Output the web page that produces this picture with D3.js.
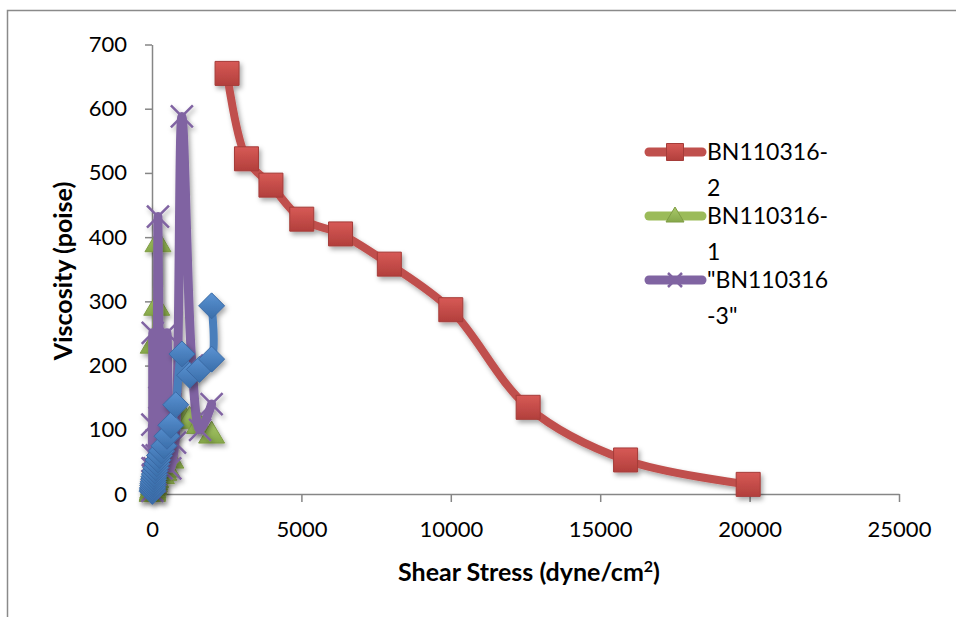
<!DOCTYPE html>
<html>
<head>
<meta charset="utf-8">
<script src="https://cdn.jsdelivr.net/npm/d3@7/dist/d3.min.js"></script>
<style>
  body { margin: 0; background: #fff; }
  svg { display: block; }
  text { font-family: Lato, "Open Sans", sans-serif; fill: #000; }
</style>
</head>
<body>
<script>
// shear stress (dyne/cm2) and viscosity (poise)
var redStress = [2512, 3162, 3981, 5012, 6310, 7943, 10000, 12589, 15849, 19953];
var redVisc   = [655, 522, 481, 428, 405, 358, 287, 135, 53, 15];

var greenStress = [10, 12.6, 15.8, 20, 25, 31.6, 39.8, 50, 63, 79, 100, 126, 158, 200, 251, 316, 398, 501, 631, 794, 1000, 1259, 1585, 1995];
var greenVisc   = [2, 3, 4, 5, 7, 8, 233, 12, 14, 17, 20, 24, 292, 391, 60, 30, 35, 40, 54, 120, 125, 116, 108, 93];

var purpleStress = [10, 12.6, 15.8, 20, 25, 31.6, 39.8, 50, 63, 79, 100, 126, 158, 200, 251, 316, 398, 501, 610, 770, 1000, 1340, 1610, 1995];
var purpleVisc   = [5, 108, 20, 40, 251, 60, 30, 20, 30, 40, 20, 30, 60, 432, 150, 40, 100, 251, 40, 80, 588, 200, 100, 140];

var blueStress = [10, 12.6, 15.8, 20, 25, 31.6, 39.8, 50, 63, 79, 100, 126, 158, 200, 251, 316, 398, 501, 631, 794, 1000, 1259, 1585, 1995, 1995];
var blueVisc   = [4, 6, 8, 10, 13, 16, 19, 23, 27, 31, 36, 41, 47, 53, 60, 67, 75, 90, 107, 139, 218, 185, 194, 210, 293];

var xTicks = [0, 5000, 10000, 15000, 20000, 25000];
var yTicks = [0, 100, 200, 300, 400, 500, 600, 700];

var legendNames = ['BN110316-2', 'BN110316-1', '"BN110316-3"'];
var legendLines = [['BN110316-', '2'], ['BN110316-', '1'], ['"BN110316', '-3"']];

var w = 956, h = 617;

var x = d3.scaleLinear().domain([0, 25000]).range([152, 899]);
var y = d3.scaleLinear().domain([0, 700]).range([494, 44.5]);

var svg = d3.select('body').append('svg')
  .attr('width', w)
  .attr('height', h);

var defs = svg.append('defs');

var shadow = defs.append('filter')
  .attr('id', 'shadow')
  .attr('x', '-20%').attr('y', '-20%')
  .attr('width', '140%').attr('height', '140%');
shadow.append('feDropShadow')
  .attr('dx', 2).attr('dy', 3)
  .attr('stdDeviation', 2.5)
  .attr('flood-color', '#000')
  .attr('flood-opacity', 0.35);

function grad(id, top, bottom) {
  var g = defs.append('linearGradient')
    .attr('id', id)
    .attr('x1', 0).attr('y1', 0).attr('x2', 0).attr('y2', 1);
  g.append('stop').attr('offset', '0%').attr('stop-color', top);
  g.append('stop').attr('offset', '100%').attr('stop-color', bottom);
}
grad('gRed', '#d75a56', '#b23f3c');
grad('gGreen', '#a9c96a', '#86a84a');
grad('gBlue', '#5b93d3', '#3a6eaa');

// chart frame, partly off the picture
svg.append('rect')
  .attr('x', 7.5).attr('y', 10.5)
  .attr('width', 1000).attr('height', 700)
  .attr('fill', 'none')
  .attr('stroke', '#8a8a8a')
  .attr('stroke-width', 1.5);

// axes
var xAxis = d3.axisBottom(x)
  .tickValues(xTicks)
  .tickSize(8)
  .tickSizeOuter(0)
  .tickPadding(19)
  .tickFormat(d3.format('d'));

var yAxis = d3.axisLeft(y)
  .tickValues(yTicks)
  .tickSize(7)
  .tickSizeOuter(0)
  .tickPadding(18)
  .tickFormat(d3.format('d'));

var gx = svg.append('g')
  .attr('transform', 'translate(0,' + y(0) + ')')
  .call(xAxis);
var gy = svg.append('g')
  .attr('transform', 'translate(' + x(0) + ',0)')
  .call(yAxis);

[gx, gy].forEach(function (g) {
  g.select('.domain').attr('stroke', '#868686').attr('stroke-width', 1.5);
  g.selectAll('.tick line').attr('stroke', '#868686').attr('stroke-width', 1.5);
  g.selectAll('.tick text')
    .style('font-family', 'Lato, "Open Sans", sans-serif')
    .style('font-size', '22px')
    .attr('fill', '#000');
});

// axis titles
svg.append('text')
  .attr('x', 529).attr('y', 581)
  .attr('text-anchor', 'middle')
  .style('font-size', '25px')
  .style('font-weight', 'bold')
  .html('Shear Stress (dyne/cm<tspan baseline-shift="super" font-size="16px">2</tspan>)');

svg.append('text')
  .attr('transform', 'translate(72,271) rotate(-90)')
  .attr('text-anchor', 'middle')
  .style('font-size', '25px')
  .style('font-weight', 'bold')
  .text('Viscosity (poise)');

// marker shapes
function squarePath(s) {
  return 'M' + (-s / 2) + ',' + (-s / 2) + 'h' + s + 'v' + s + 'h' + (-s) + 'Z';
}
function diamondPath(s) {
  return 'M0,' + (-s) + 'L' + s + ',0L0,' + s + 'L' + (-s) + ',0Z';
}
function trianglePath(wd, ht) {
  return 'M0,' + (-ht * 0.6) + 'L' + (wd / 2) + ',' + (ht * 0.4) + 'L' + (-wd / 2) + ',' + (ht * 0.4) + 'Z';
}
function crossPath(s) {
  return 'M' + (-s) + ',' + (-s) + 'L' + s + ',' + s + 'M' + (-s) + ',' + s + 'L' + s + ',' + (-s);
}

var line = d3.line()
  .x(function (d) { return x(d[0]); })
  .y(function (d) { return y(d[1]); })
  .curve(d3.curveCatmullRom.alpha(0.5));

var series = [
  { xs: redStress, ys: redVisc, color: '#c0504d', lw: 8,
    marker: squarePath(24), fill: 'url(#gRed)', stroke: '#a53c39', sw: 1 },
  { xs: greenStress, ys: greenVisc, color: '#9bbb59', lw: 8,
    marker: trianglePath(26, 22), fill: 'url(#gGreen)', stroke: '#7f9c44', sw: 1 },
  { xs: purpleStress, ys: purpleVisc, color: '#8064a2', lw: 9,
    marker: crossPath(11), fill: 'none', stroke: '#8064a2', sw: 2.5 },
  { xs: blueStress, ys: blueVisc, color: '#4a7ebb', lw: 8,
    marker: diamondPath(13), fill: 'url(#gBlue)', stroke: '#3a6aa5', sw: 1 }
];

series.forEach(function (s) {
  var pts = s.xs.map(function (v, i) { return [v, s.ys[i]]; });
  var g = svg.append('g').attr('filter', 'url(#shadow)');

  g.append('path')
    .datum(pts)
    .attr('d', line)
    .attr('fill', 'none')
    .attr('stroke', s.color)
    .attr('stroke-width', s.lw)
    .attr('stroke-linejoin', 'round')
    .attr('stroke-linecap', 'round');

  g.selectAll('path.mk')
    .data(pts)
    .enter()
    .append('path')
      .attr('class', 'mk')
      .attr('transform', function (d) { return 'translate(' + x(d[0]) + ',' + y(d[1]) + ')'; })
      .attr('d', s.marker)
      .attr('fill', s.fill)
      .attr('stroke', s.stroke)
      .attr('stroke-width', s.sw);
});

// legend (the blue series has no entry in the reference)
var legendMarkers = [squarePath(17), trianglePath(18, 15), crossPath(7)];
var legend = svg.append('g');

legendNames.forEach(function (name, i) {
  var s = series[i];
  var cy = 152 + i * 64;
  var item = legend.append('g').attr('class', 'legend-item').attr('data-name', name);

  item.append('line')
    .attr('x1', 649).attr('x2', 702)
    .attr('y1', cy).attr('y2', cy)
    .attr('stroke', s.color)
    .attr('stroke-width', 9)
    .attr('stroke-linecap', 'round');

  item.append('path')
    .attr('transform', 'translate(675,' + cy + ')')
    .attr('d', legendMarkers[i])
    .attr('fill', s.fill)
    .attr('stroke', s.stroke)
    .attr('stroke-width', s.sw);

  item.selectAll('text')
    .data(legendLines[i])
    .enter()
    .append('text')
      .attr('x', 707)
      .attr('y', function (d, j) { return cy + 8 + j * 36; })
      .style('font-size', '23px')
      .text(function (d) { return d; });
});
</script>
</body>
</html>
